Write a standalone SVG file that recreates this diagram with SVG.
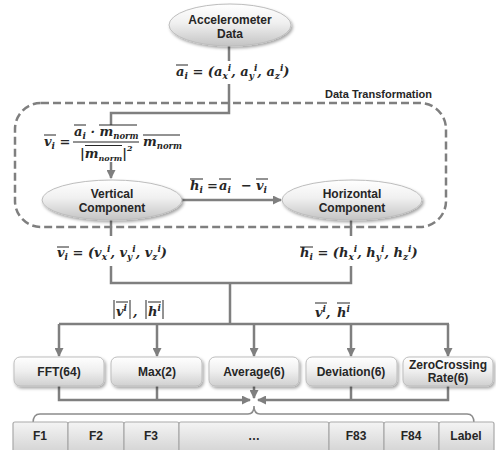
<svg xmlns="http://www.w3.org/2000/svg" width="496" height="450" viewBox="0 0 496 450">
<defs>
<linearGradient id="gEll" x1="0" y1="0" x2="0" y2="1">
<stop offset="0" stop-color="#ffffff"/><stop offset="0.45" stop-color="#f0f0f0"/><stop offset="1" stop-color="#c4c4c4"/>
</linearGradient>
<linearGradient id="gBox" x1="0" y1="0" x2="0" y2="1">
<stop offset="0" stop-color="#ffffff"/><stop offset="0.5" stop-color="#eeeeee"/><stop offset="1" stop-color="#d0d0d0"/>
</linearGradient>
<linearGradient id="gCell" x1="0" y1="0" x2="0" y2="1">
<stop offset="0" stop-color="#f4f4f4"/><stop offset="1" stop-color="#d2d2d2"/>
</linearGradient>
<filter id="sh" x="-20%" y="-30%" width="150%" height="170%">
<feDropShadow dx="1.5" dy="2" stdDeviation="1.5" flood-color="#000" flood-opacity="0.35"/>
</filter>
<marker id="ah" markerUnits="userSpaceOnUse" markerWidth="9" markerHeight="9" refX="8" refY="4.5" orient="auto">
<path d="M0,0 L9,4.5 L0,9 z" fill="#7f7f7f"/>
</marker>
</defs>
<style>
.ell{fill:url(#gEll);stroke:#bdbdbd;stroke-width:1;filter:url(#sh)}
.box{fill:url(#gBox);stroke:#bdbdbd;stroke-width:1;filter:url(#sh)}
.cell{fill:url(#gCell);stroke:#a9a9a9;stroke-width:1.2}
.t{font-family:"Liberation Sans",Arial,sans-serif;font-weight:bold;font-size:12px;fill:#262626;text-anchor:middle}
.m{font-family:"DejaVu Serif","Liberation Serif",serif;font-style:italic;font-weight:bold;font-size:13px;fill:#262626}
.s{font-size:9px}
.n{font-size:8.5px}
.ln{fill:none;stroke:#7f7f7f;stroke-width:2.5}
.ol{stroke:#262626;stroke-width:1}
.dash{fill:none;stroke:#7f7f7f;stroke-width:2.5;stroke-dasharray:8 4}
</style>

<g id="transform-box">
<rect class="dash" x="15" y="103" width="431" height="124" rx="26"/>
<text class="t" x="432" y="98" style="text-anchor:end;font-size:11px">Data Transformation</text>
</g>

<g id="connectors">
<path class="ln" d="M229,46 V61"/>
<path class="ln" d="M229,84 V113 H111 V125"/>
<path class="ln" d="M111,162 V178" marker-end="url(#ah)"/>
<path class="ln" d="M182,200 H281" marker-end="url(#ah)"/>
<path class="ln" d="M111,220 V236"/>
<path class="ln" d="M351,220 V236"/>
<path class="ln" d="M111,266 V283 H351 V266"/>
<path class="ln" d="M230,283 V324"/>
<path class="ln" d="M59,324 H449"/>
<path class="ln" d="M59,324 V356" marker-end="url(#ah)"/>
<path class="ln" d="M157,324 V356" marker-end="url(#ah)"/>
<path class="ln" d="M254,324 V356" marker-end="url(#ah)"/>
<path class="ln" d="M351,324 V356" marker-end="url(#ah)"/>
<path class="ln" d="M448,324 V356" marker-end="url(#ah)"/>
<path class="ln" d="M59,386 V400 H250" marker-end="url(#ah)"/>
<path class="ln" d="M157,386 V400"/>
<path class="ln" d="M448,386 V400 H258" marker-end="url(#ah)"/>
<path class="ln" d="M351,386 V400"/>
<path class="ln" d="M254,386 V398" marker-end="url(#ah)"/>
<path d="M33,423 Q33,414 40,414 H248 Q254,414 254,406 Q254,414 260,414 H467 Q474,414 474,423" fill="none" stroke="#8c8c8c" stroke-width="1.5"/>
</g>

<g id="accelerometer">
<ellipse class="ell" cx="230" cy="25" rx="61" ry="21"/>
<text class="t" x="230" y="24">Accelerometer</text>
<text class="t" x="230" y="38">Data</text>
</g>

<g id="formula-a">
<line class="ol" x1="176" y1="65" x2="188" y2="65"/>
<text class="m" x="176" y="76">a<tspan class="s" dy="3">i</tspan><tspan dy="-3"> = (a</tspan><tspan class="s" dy="3">x</tspan><tspan class="s" dy="-8">i</tspan><tspan dy="5">, a</tspan><tspan class="s" dy="3">y</tspan><tspan class="s" dy="-8">i</tspan><tspan dy="5">, a</tspan><tspan class="s" dy="3">z</tspan><tspan class="s" dy="-8">i</tspan><tspan dy="5">)</tspan></text>
</g>

<g id="formula-v">
<line class="ol" x1="44" y1="135" x2="56" y2="135"/>
<text class="m" x="44" y="146">v<tspan class="s" dy="3">i</tspan><tspan dy="-3"> =</tspan></text>
<line class="ol" x1="74" y1="125" x2="86" y2="125"/>
<line class="ol" x1="99" y1="125" x2="137" y2="125"/>
<text class="m" x="74" y="136">a<tspan class="s" dy="3">i</tspan><tspan dy="-3"> · m</tspan><tspan class="n" dy="3">norm</tspan></text>
<line x1="73" y1="142" x2="139" y2="142" stroke="#262626" stroke-width="1"/>
<line class="ol" x1="85" y1="145.5" x2="122" y2="145.5"/>
<text class="m" x="80" y="158">|m<tspan class="n" dy="3" style="font-size:8px">norm</tspan><tspan dy="-3">|</tspan><tspan class="s" dy="-7" style="font-size:8px">2</tspan></text>
<line class="ol" x1="143" y1="135" x2="180" y2="135"/>
<text class="m" x="143" y="146">m<tspan class="n" dy="3">norm</tspan></text>
</g>

<g id="vertical">
<ellipse class="ell" cx="112" cy="200" rx="70" ry="20"/>
<text class="t" x="112" y="198">Vertical</text>
<text class="t" x="112" y="212">Component</text>
</g>

<g id="horizontal">
<ellipse class="ell" cx="352" cy="200" rx="70" ry="20"/>
<text class="t" x="352" y="198">Horizontal</text>
<text class="t" x="352" y="212">Component</text>
</g>

<g id="formula-h">
<line class="ol" x1="190" y1="179" x2="203" y2="179"/>
<line class="ol" x1="219" y1="179" x2="231" y2="179"/>
<line class="ol" x1="256" y1="179" x2="268" y2="179"/>
<text class="m" x="190" y="190">h<tspan class="s" dy="3">i</tspan></text>
<text class="m" x="207" y="190">=</text>
<text class="m" x="219" y="190">a<tspan class="s" dy="3">i</tspan></text>
<text class="m" x="241" y="190">−</text>
<text class="m" x="256" y="190">v<tspan class="s" dy="3">i</tspan></text>
</g>

<g id="formula-vi">
<line class="ol" x1="57" y1="247" x2="69" y2="247"/>
<text class="m" x="57" y="257">v<tspan class="s" dy="3">i</tspan><tspan dy="-3"> = (v</tspan><tspan class="s" dy="3">x</tspan><tspan class="s" dy="-8">i</tspan><tspan dy="5">, v</tspan><tspan class="s" dy="3">y</tspan><tspan class="s" dy="-8">i</tspan><tspan dy="5">, v</tspan><tspan class="s" dy="3">z</tspan><tspan class="s" dy="-8">i</tspan><tspan dy="5">)</tspan></text>
</g>

<g id="formula-hi">
<line class="ol" x1="300" y1="247" x2="313" y2="247"/>
<text class="m" x="300" y="257">h<tspan class="s" dy="3">i</tspan><tspan dy="-3"> = (h</tspan><tspan class="s" dy="3">x</tspan><tspan class="s" dy="-8">i</tspan><tspan dy="5">, h</tspan><tspan class="s" dy="3">y</tspan><tspan class="s" dy="-8">i</tspan><tspan dy="5">, h</tspan><tspan class="s" dy="3">z</tspan><tspan class="s" dy="-8">i</tspan><tspan dy="5">)</tspan></text>
</g>

<g id="label-abs">
<line class="ol" x1="116" y1="302" x2="128" y2="302"/>
<line class="ol" x1="148" y1="302" x2="161" y2="302"/>
<line class="ol" x1="114" y1="300" x2="114" y2="319"/>
<line class="ol" x1="130" y1="300" x2="130" y2="319"/>
<line class="ol" x1="146" y1="300" x2="146" y2="319"/>
<line class="ol" x1="163" y1="300" x2="163" y2="319"/>
<text class="m" x="116" y="316">v<tspan class="s" dy="-5">i</tspan></text>
<text class="m" x="133" y="316">,</text>
<text class="m" x="148" y="316">h<tspan class="s" dy="-5">i</tspan></text>
</g>

<g id="label-vec">
<line class="ol" x1="315" y1="303" x2="327" y2="303"/>
<line class="ol" x1="337" y1="303" x2="350" y2="303"/>
<text class="m" x="315" y="317">v<tspan class="s" dy="-5">i</tspan><tspan dy="5">,</tspan></text>
<text class="m" x="337" y="317">h<tspan class="s" dy="-5">i</tspan></text>
</g>

<g id="fft"><rect class="box" x="14" y="357" width="90" height="29" rx="6"/><text class="t" x="59" y="376">FFT(64)</text></g>
<g id="max"><rect class="box" x="111" y="357" width="91" height="29" rx="6"/><text class="t" x="157" y="376">Max(2)</text></g>
<g id="average"><rect class="box" x="209" y="357" width="90" height="29" rx="6"/><text class="t" x="254" y="376">Average(6)</text></g>
<g id="deviation"><rect class="box" x="306" y="357" width="91" height="29" rx="6"/><text class="t" x="351" y="376">Deviation(6)</text></g>
<g id="zerocrossing"><rect class="box" x="403" y="357" width="90" height="29" rx="6"/><text class="t" x="448" y="369">ZeroCrossing</text><text class="t" x="448" y="382">Rate(6)</text></g>

<g id="features">
<rect class="cell" x="13" y="422" width="55" height="32" rx="2"/><text class="t" x="40" y="440">F1</text>
<rect class="cell" x="68" y="422" width="56" height="32" rx="2"/><text class="t" x="96" y="440">F2</text>
<rect class="cell" x="124" y="422" width="55" height="32" rx="2"/><text class="t" x="151" y="440">F3</text>
<rect class="cell" x="179" y="422" width="150" height="32" rx="2"/><text class="t" x="254" y="440">…</text>
<rect class="cell" x="329" y="422" width="55" height="32" rx="2"/><text class="t" x="356" y="440">F83</text>
<rect class="cell" x="384" y="422" width="55" height="32" rx="2"/><text class="t" x="411" y="440">F84</text>
<rect class="cell" x="439" y="422" width="55" height="32" rx="2"/><text class="t" x="466" y="440">Label</text>
</g>
</svg>
